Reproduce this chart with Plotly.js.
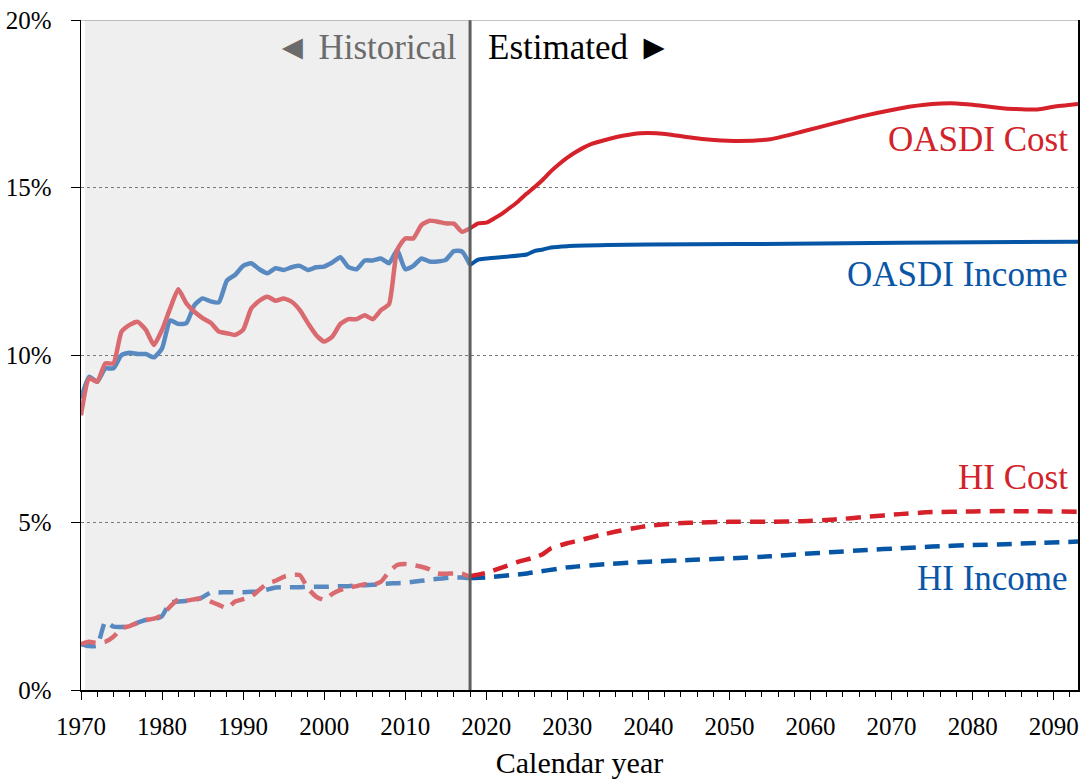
<!DOCTYPE html>
<html>
<head>
<meta charset="utf-8">
<script src="https://cdn.plot.ly/plotly-3.0.1.min.js"></script>
<style>html,body{margin:0;padding:0;background:#fff;}#chart{width:1084px;height:780px;}</style>
</head>
<body>
<div id="chart"></div>
<script>
// Historical years
var histYears = [1970,1971,1972,1973,1974,1975,1976,1977,1978,1979,1980,1981,1982,1983,1984,1985,1986,1987,1988,1989,1990,1991,1992,1993,1994,1995,1996,1997,1998,1999,2000,2001,2002,2003,2004,2005,2006,2007,2008,2009,2010,2011,2012,2013,2014,2015,2016,2017,2018];
var oasdiCostHist = [8.2,9.3,9.2,9.75,9.75,10.7,10.9,10.99,10.75,10.3,10.75,11.39,11.96,11.54,11.29,11.1,10.96,10.7,10.65,10.6,10.75,11.39,11.62,11.74,11.62,11.69,11.59,11.34,10.95,10.6,10.4,10.55,10.93,11.07,11.07,11.19,11.07,11.34,11.52,13.13,13.48,13.48,13.88,14.01,13.98,13.93,13.92,13.68,13.78];
var oasdiIncomeHist = [8.7,9.35,9.2,9.6,9.6,10.0,10.07,10.03,10.03,9.93,10.2,11.03,10.93,10.95,11.49,11.69,11.6,11.57,12.22,12.39,12.66,12.74,12.56,12.44,12.59,12.54,12.62,12.66,12.54,12.62,12.64,12.76,12.92,12.62,12.56,12.82,12.82,12.88,12.74,13.13,12.56,12.66,12.88,12.79,12.79,12.84,13.1,13.09,12.69];
var hiCostHist = [1.37,1.44,1.4,1.44,1.59,1.84,1.91,2.01,2.09,2.13,2.24,2.49,2.71,2.67,2.71,2.74,2.64,2.54,2.44,2.64,2.71,2.79,2.99,3.18,3.26,3.38,3.43,3.43,3.03,2.79,2.69,2.87,2.99,3.06,3.1,3.16,3.14,3.23,3.53,3.73,3.76,3.73,3.68,3.6,3.48,3.47,3.48,3.47,3.38];
var hiIncomeHist = [1.37,1.31,1.33,2.04,1.89,1.88,1.9,2.01,2.09,2.1,2.21,2.61,2.64,2.66,2.68,2.77,2.91,2.91,2.92,2.92,2.92,2.93,2.94,3.0,3.06,3.07,3.07,3.07,3.08,3.08,3.08,3.09,3.1,3.1,3.12,3.13,3.14,3.16,3.18,3.19,3.2,3.23,3.26,3.29,3.32,3.34,3.36,3.36,3.34];

// Projections (values read at selected years)
var oasdiCostProjYears = [2018,2019,2020,2021,2022,2023,2024,2025,2026,2027,2028,2029,2030,2031,2032,2033,2035,2037,2039,2041,2043,2045,2047,2049,2051,2055,2059,2063,2067,2071,2075,2078,2080,2084,2088,2090,2093];
var oasdiCostProj = [13.78,13.93,13.95,14.08,14.23,14.41,14.6,14.82,15.02,15.24,15.49,15.7,15.89,16.05,16.19,16.3,16.44,16.55,16.62,16.62,16.57,16.5,16.44,16.4,16.39,16.44,16.67,16.92,17.16,17.36,17.49,17.51,17.47,17.36,17.33,17.41,17.49];
var oasdiIncomeProjYears = [2018,2019,2020,2025,2026,2027,2028,2030,2035,2040,2051,2071,2093];
var oasdiIncomeProj = [12.69,12.85,12.88,13.0,13.11,13.15,13.21,13.25,13.28,13.3,13.31,13.35,13.38];
var hiCostProjYears = [2018,2020,2022,2024,2026,2027,2028,2030,2032,2034,2036,2038,2040,2042,2045,2050,2055,2059,2063,2067,2071,2075,2080,2084,2093];
var hiCostProj = [3.4,3.5,3.66,3.83,3.96,4.06,4.23,4.38,4.5,4.62,4.73,4.82,4.9,4.95,4.99,5.02,5.02,5.04,5.09,5.17,5.25,5.31,5.33,5.34,5.32];
var hiIncomeProjYears = [2018,2020,2025,2030,2035,2040,2045,2050,2055,2059,2063,2067,2071,2075,2080,2084,2088,2093];
var hiIncomeProj = [3.34,3.36,3.48,3.66,3.76,3.83,3.88,3.93,3.99,4.06,4.12,4.18,4.23,4.28,4.33,4.35,4.39,4.43];

var yTickVals = [0,5,10,15,20];
var yTickText = ['0%','5%','10%','15%','20%'];
var xTickVals = [1970,1980,1990,2000,2010,2020,2030,2040,2050,2060,2070,2080,2090];

var histRed = '#d96a70', histBlue = '#5889c1';
var projRed = '#d6202a', projBlue = '#0755a5';
var dashPat = '15px,9px';

function tr(x, y, color, width, dash) {
  return {x: x, y: y, type: 'scatter', mode: 'lines', hoverinfo: 'skip',
    line: {color: color, width: width, dash: dash || 'solid', shape: 'spline', smoothing: 0.5}};
}

var data = [
  tr(histYears, hiIncomeHist, histBlue, 4.5, dashPat),
  tr(histYears, hiCostHist, histRed, 4.5, dashPat),
  tr(histYears, oasdiIncomeHist, histBlue, 4.5),
  tr(histYears, oasdiCostHist, histRed, 4.5),
  tr(hiIncomeProjYears, hiIncomeProj, projBlue, 4.5, dashPat),
  tr(hiCostProjYears, hiCostProj, projRed, 4.5, dashPat),
  tr(oasdiIncomeProjYears, oasdiIncomeProj, projBlue, 4),
  tr(oasdiCostProjYears, oasdiCostProj, projRed, 4)
];

var serif = 'Liberation Serif, Times New Roman, serif';

var layout = {
  width: 1084, height: 780,
  margin: {l: 81, r: 6, t: 20, b: 90, pad: 0},
  paper_bgcolor: '#ffffff', plot_bgcolor: '#ffffff',
  showlegend: false,
  font: {family: serif, color: '#000'},
  xaxis: {
    range: [1970, 2093], tickvals: xTickVals, ticktext: xTickVals.map(String),
    ticks: 'outside', ticklen: 8, tickwidth: 1, tickcolor: '#000',
    showline: true, linecolor: '#000', linewidth: 1.5,
    showgrid: false, zeroline: false,
    tickfont: {family: serif, size: 25, color: '#000'},
    ticklabelstandoff: 5,
    minor: {dtick: 2, tick0: 1970, ticks: 'outside', ticklen: 5, tickcolor: '#000', tickwidth: 1, showgrid: false},
    title: {text: 'Calendar year', font: {family: serif, size: 30, color: '#000'}, standoff: 13}
  },
  yaxis: {
    range: [0, 20], tickvals: yTickVals, ticktext: yTickText,
    ticks: 'outside', ticklen: 9, tickwidth: 1, tickcolor: '#000',
    showline: true, linecolor: '#000', linewidth: 1.5, mirror: true,
    showgrid: true, gridcolor: '#7a7a7a', gridwidth: 1, griddash: 'dot',
    zeroline: false,
    tickfont: {family: serif, size: 25, color: '#000'},
    ticklabelstandoff: 14
  },
  shapes: [
    {type: 'rect', xref: 'x', yref: 'y', x0: 1970.5, x1: 2018, y0: 0, y1: 20,
     fillcolor: '#efefef', line: {width: 0}, layer: 'below'},
    {type: 'line', xref: 'x', yref: 'y', x0: 2018, x1: 2018, y0: 0, y1: 20,
     line: {color: '#5e5e5e', width: 3}, layer: 'above'},
    {type: 'line', xref: 'x', yref: 'y', x0: 1970, x1: 2093, y0: 20, y1: 20,
     line: {color: '#8a8a8a', width: 1}, layer: 'above'}
  ],
  annotations: [
    {text: '\u25C4 Historical', xref: 'x', yref: 'y', x: 2016.6, y: 19.18, xanchor: 'right', yanchor: 'middle',
     showarrow: false, font: {family: serif, size: 35, color: '#6b6b6b'}},
    {text: 'Estimated \u25BA', xref: 'x', yref: 'y', x: 2020, y: 19.18, xanchor: 'left', yanchor: 'middle',
     showarrow: false, font: {family: serif, size: 35, color: '#000'}},
    {text: 'OASDI Cost', xref: 'x', yref: 'y', x: 2092, y: 16.42, xanchor: 'right', yanchor: 'middle',
     showarrow: false, font: {family: serif, size: 35, color: '#d2232a'}},
    {text: 'OASDI Income', xref: 'x', yref: 'y', x: 2092, y: 12.39, xanchor: 'right', yanchor: 'middle',
     showarrow: false, font: {family: serif, size: 35, color: '#0a56a6'}},
    {text: 'HI Cost', xref: 'x', yref: 'y', x: 2092, y: 6.33, xanchor: 'right', yanchor: 'middle',
     showarrow: false, font: {family: serif, size: 35, color: '#d2232a'}},
    {text: 'HI Income', xref: 'x', yref: 'y', x: 2092, y: 3.34, xanchor: 'right', yanchor: 'middle',
     showarrow: false, font: {family: serif, size: 35, color: '#0a56a6'}}
  ]
};

Plotly.newPlot('chart', data, layout, {staticPlot: true, displayModeBar: false});
</script>
</body>
</html>
